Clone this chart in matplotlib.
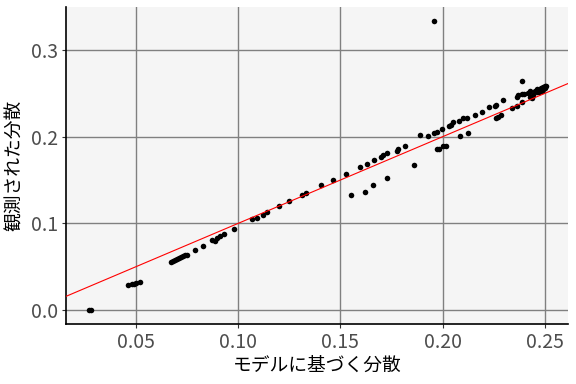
import matplotlib.pyplot as plt
import numpy as np

plt.rcParams['font.family'] = ['Noto Sans CJK JP', 'DejaVu Sans']

# model-based variance (x) vs observed variance (y)
model_var = [0.0272, 0.0280,
             0.046, 0.048, 0.049, 0.050, 0.052,
             0.067, 0.068, 0.069, 0.070, 0.071, 0.072, 0.073, 0.074, 0.075,
             0.079, 0.083, 0.087, 0.0886, 0.0896, 0.091, 0.093, 0.098,
             0.107, 0.109, 0.112, 0.114, 0.120, 0.125, 0.131, 0.133, 0.1405,
             0.1464, 0.1527, 0.155, 0.1596, 0.162, 0.163, 0.166, 0.1664,
             0.170, 0.171, 0.173, 0.173, 0.1776, 0.178, 0.1816, 0.186,
             0.189, 0.193, 0.1957, 0.196, 0.197, 0.1996, 0.197, 0.198,
             0.200, 0.2016, 0.203, 0.204, 0.205, 0.208, 0.2085, 0.210, 0.212,
             0.2124, 0.2158, 0.219, 0.2226, 0.2256, 0.226, 0.2295,
             0.226, 0.227, 0.2285, 0.234, 0.2363, 0.239, 0.239,
             0.2363, 0.2368, 0.2388, 0.240, 0.2417, 0.2427, 0.2427, 0.244,
             0.2437, 0.245, 0.246, 0.247, 0.248, 0.249, 0.250, 0.2505,
             0.247, 0.246, 0.249, 0.250, 0.2485]
obs_var = [0.000, 0.000,
           0.0285, 0.030, 0.030, 0.031, 0.032,
           0.055, 0.057, 0.058, 0.059, 0.060, 0.061, 0.062, 0.063, 0.064,
           0.069, 0.074, 0.081, 0.080, 0.083, 0.085, 0.088, 0.093,
           0.105, 0.106, 0.110, 0.113, 0.120, 0.126, 0.133, 0.135, 0.144,
           0.150, 0.157, 0.133, 0.165, 0.136, 0.168, 0.144, 0.173,
           0.176, 0.179, 0.181, 0.152, 0.184, 0.186, 0.189, 0.167,
           0.202, 0.201, 0.333, 0.204, 0.205, 0.209, 0.186, 0.186,
           0.189, 0.189, 0.212, 0.213, 0.217, 0.218, 0.2006, 0.221, 0.221,
           0.204, 0.225, 0.229, 0.234, 0.235, 0.237, 0.242,
           0.221, 0.2225, 0.225, 0.233, 0.235, 0.264, 0.240,
           0.2456, 0.248, 0.249, 0.249, 0.250, 0.2525, 0.2456, 0.248,
           0.2444, 0.253, 0.255, 0.254, 0.256, 0.257, 0.258, 0.259,
           0.251, 0.252, 0.255, 0.256, 0.253]

xlim = (0.0158, 0.2613)
ylim = (-0.0161, 0.3496)

fig = plt.figure(figsize=(5.76, 3.84), dpi=100)
ax = fig.add_axes([66/576, 1-324/384, 502/576, 317/384])
ax.set_facecolor('#f5f5f5')
ax.grid(True, color='#808080', linewidth=1.0)
ax.set_axisbelow(True)

ax.scatter(model_var, obs_var, s=16, color='black', zorder=3, linewidths=0)
line = np.array(xlim)
ax.plot(line, line, color='red', linewidth=0.8, zorder=4)

ax.set_xlim(xlim)
ax.set_ylim(ylim)
ax.set_xticks([0.05, 0.10, 0.15, 0.20, 0.25])
ax.set_xticklabels(['0.05', '0.10', '0.15', '0.20', '0.25'])
ax.set_yticks([0.0, 0.1, 0.2, 0.3])
ax.set_yticklabels(['0.0', '0.1', '0.2', '0.3'])
ax.tick_params(labelsize=14, labelcolor='#4d4d4d', color='#333333', length=3,
               pad=3)

for s in ['top', 'right']:
    ax.spines[s].set_visible(False)
for s in ['left', 'bottom']:
    ax.spines[s].set_color('black')
    ax.spines[s].set_linewidth(1.2)

ax.set_xlabel('モデルに基づく分散', fontsize=13.5, labelpad=1)
ax.set_ylabel('観測された分散', fontsize=13.5, labelpad=4)

fig.savefig('out.png', dpi=100)
